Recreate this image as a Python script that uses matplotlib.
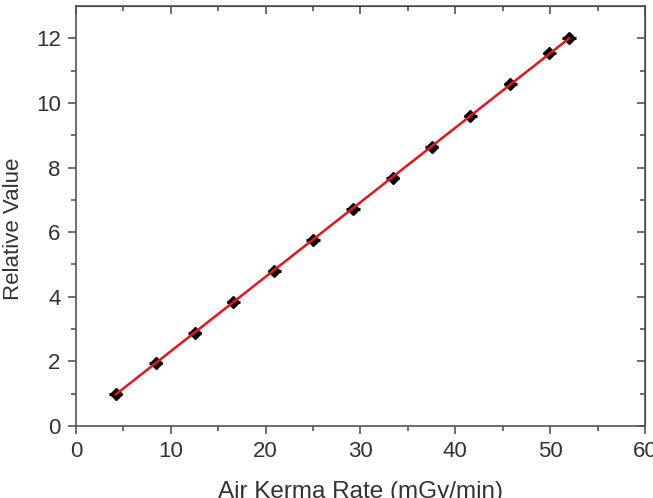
import numpy as np
import matplotlib.pyplot as plt

plt.rcParams['font.family'] = ['Liberation Sans', 'DejaVu Sans']

# --- DATA ---
air_kerma_rate = [4.2, 8.4, 12.5, 16.6, 20.9, 25.0, 29.2, 33.4, 37.5, 41.6, 45.8, 49.9, 52.0]
relative_value = [0.99, 1.95, 2.89, 3.85, 4.81, 5.77, 6.73, 7.69, 8.65, 9.61, 10.57, 11.53, 12.0]
x_err = [0.7] * len(air_kerma_rate)
y_err = [0.1] * len(relative_value)

x = np.array(air_kerma_rate)
y = np.array(relative_value)

# linear fit
m, b = np.polyfit(x, y, 1)
x_fit = np.array([x.min(), x.max()])
y_fit = m * x_fit + b

fig = plt.figure(figsize=(6.53, 4.98), dpi=100)
ax = fig.add_axes([0.1164, 0.1446, 0.8713, 0.8434])

ax.errorbar(x, y, xerr=x_err, yerr=y_err, fmt='D', color='black', markersize=6,
            elinewidth=2.2, capsize=0, zorder=2)
ax.plot(x_fit, y_fit, color='#e8141c', linewidth=1.8, zorder=3)

ax.set_xlim(0, 60)
ax.set_ylim(0, 13)
ax.set_xticks(np.arange(0, 61, 10))
ax.set_xticks(np.arange(5, 60, 10), minor=True)
ax.set_yticks(np.arange(0, 13, 2))
ax.set_yticks(np.arange(1, 13, 2), minor=True)

spine_color = '#555555'
for s in ax.spines.values():
    s.set_color(spine_color)
    s.set_linewidth(1.2)

ax.tick_params(which='both', direction='out', colors=spine_color, labelcolor='#333333',
               labelsize=16, width=1.2)
ax.tick_params(which='major', length=6, pad=5)
ax.tick_params(which='minor', length=3.5)

# mirrored ticks on top and right (pointing inward)
ax_top = ax.secondary_xaxis('top')
ax_top.set_xticks(np.arange(0, 61, 10))
ax_top.set_xticks(np.arange(5, 60, 10), minor=True)
ax_top.tick_params(which='both', direction='in', colors=spine_color, width=1.2)
ax_top.tick_params(which='major', length=6)
ax_top.tick_params(which='minor', length=3.5)
ax_top.set_xticklabels([])
ax_right = ax.secondary_yaxis('right')
ax_right.set_yticks(np.arange(0, 13, 2))
ax_right.set_yticks(np.arange(1, 13, 2), minor=True)
ax_right.tick_params(which='both', direction='in', colors=spine_color, width=1.2)
ax_right.tick_params(which='major', length=6)
ax_right.tick_params(which='minor', length=3.5)
ax_right.set_yticklabels([])

ax.set_xlabel('Air Kerma Rate (mGy/min)', fontsize=17.5, color='#333333')
ax.xaxis.set_label_coords(0.5, -0.13)
ax.set_ylabel('Relative Value', fontsize=16, color='#333333')
ax.yaxis.set_label_coords(-0.092, 0.47)

fig.savefig('out.png', dpi=100)
